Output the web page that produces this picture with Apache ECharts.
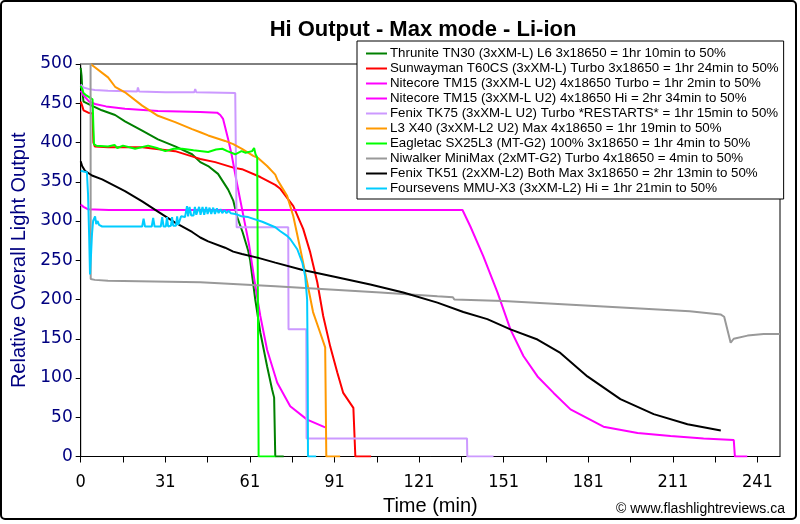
<!DOCTYPE html>
<html>
<head>
<meta charset="utf-8">
<script src="https://cdn.jsdelivr.net/npm/echarts@6/dist/echarts.min.js"></script>
<style>
html,body{margin:0;padding:0;background:#fff;}
#c{width:800px;height:524px;}
</style>
</head>
<body>
<div id="c"></div>
<script>
// ---- data: [time (min), relative output] ----
var seriesNames = [
  "Thrunite TN30 (3xXM-L) L6 3x18650 = 1hr 10min to 50%",
  "Sunwayman T60CS (3xXM-L) Turbo 3x18650 = 1hr 24min to 50%",
  "Nitecore TM15 (3xXM-L U2) 4x18650 Turbo = 1hr 2min to 50%",
  "Nitecore TM15 (3xXM-L U2) 4x18650 Hi = 2hr 34min to 50%",
  "Fenix TK75 (3xXM-L U2) Turbo *RESTARTS* = 1hr 15min to 50%",
  "L3 X40 (3xXM-L2 U2) Max 4x18650 = 1hr 19min to 50%",
  "Eagletac SX25L3 (MT-G2) 100% 3x18650 = 1hr 4min to 50%",
  "Niwalker MiniMax (2xMT-G2) Turbo 4x18650 = 4min to 50%",
  "Fenix TK51 (2xXM-L2) Both Max 3x18650 = 2hr 13min to 50%",
  "Foursevens MMU-X3 (3xXM-L2) Hi = 1hr 21min to 50%"
];
var seriesColors = ["#008000","#FF0000","#FF00FF","#FF00FF","#CC99FF","#FF9900","#00FF00","#999999","#000000","#00CCFF"];

var thruniteTN30 = [[0,495],[0.3,485],[0.6,465],[1,452],[3.9,447],[7.5,441],[12.2,435],[15.7,427],[21.8,415],[27.4,404],[33.5,395],[39.5,385],[42.4,375],[45.2,370],[48.7,360],[52.3,340],[54.1,326],[55.5,305],[57.4,286],[59.4,262],[60.1,250],[61.9,200],[63.7,158],[66.1,115],[67.9,85],[68.6,75],[69.0,0],[72,0]];
var sunwaymanT60CS = [[0,452],[0.5,447],[1,441],[2.7,438],[4.2,437],[4.5,400],[5,395],[9.7,394],[21.8,394],[33.5,389],[40.6,381],[42.4,379],[47.7,375],[54.1,368],[57.2,366],[63.7,356],[69.0,346],[70.8,341],[75.4,319],[78.9,290],[81.4,260],[83.9,222],[86.0,179],[88.5,140],[91.0,107],[93.1,81],[96.7,62],[97.4,0],[103,0]];
var nitecoreTurbo = [[0,466],[1,460],[3,452],[5.1,449],[9,446],[15.7,443],[27.4,440],[42.4,439],[48.4,438],[49.5,435],[50.5,430],[52.3,404],[53.5,385],[55.3,350],[57.5,310],[59.7,270],[61.9,218],[63.7,179],[66.1,136],[69.7,94],[74.3,64],[80.3,47],[86.7,37]];
var nitecoreHi = [[0,321],[1,318],[2.5,315],[10,314],[60,314],[100,314],[135.4,314],[138.2,293],[142.8,255],[147.8,209],[152.4,162],[157.0,128],[162.0,102],[167.7,81],[173.7,60],[185.4,38],[197.5,30],[209.2,26],[220.9,23],[231.6,21],[232.0,0],[236.4,0]];
var fenixTK75 = [[0,474],[1,470],[3,468],[5,467],[9.7,466],[20,465],[20.3,470],[20.7,465],[30,464],[40.3,464],[40.6,468],[41,464],[54.8,463],[55.2,463],[55.3,292],[73.6,292],[73.7,162],[80.0,162],[80.1,23],[137,23],[137.1,0],[146.4,0]];
var l3X40 = [[3.5,500],[9.7,483],[12.2,471],[15.7,464],[21.8,447],[27.4,434],[33.5,426],[39.5,417],[42.4,413],[45.2,409],[51.2,402],[54.1,398],[57.2,392],[61.2,383],[63.0,380],[66.1,370],[69.0,359],[69.7,353],[73.2,332],[75.4,306],[77.9,264],[80.3,222],[82.4,184],[84.9,158],[86.7,139],[87.1,0],[92,0]];
var eagletacSX25L3 = [[0,472],[0.5,468],[1,463],[2,460],[4.2,455],[4.5,420],[4.7,398],[5.5,396],[9.7,395],[12,397],[13,393],[15,396],[19.3,392],[23.9,396],[27,393],[30,389],[33,392],[36,392],[40,390],[45.2,388],[48,391],[50.2,392],[52,389],[54.8,385],[57,389],[58.5,387],[60.8,389],[61.5,393],[62.0,385],[62.6,381],[63.0,379],[63.1,0],[69,0]];
var niwalkerMiniMax = [[0,500],[3.5,500],[3.55,226],[5,225],[9.7,224],[42.4,222],[69.0,217],[106.3,209],[126.5,204],[132,203],[132.5,200],[149.9,198],[185.4,191],[216,185],[226.9,181],[228.2,178],[230.5,145],[231.6,150],[236.5,154],[242.2,156],[248,156]];
var fenixTK51 = [[0,376],[0.5,370],[1.5,364],[4,358],[7.6,353],[15.7,338],[21.8,325],[27.4,312],[33.5,298],[39.5,286],[42.4,279],[45.2,274],[51.2,266],[54.1,261],[57.2,258],[63.0,253],[69.0,247],[78.4,238],[90,229],[102.7,219],[114.4,209],[126.5,196],[135.7,184],[144.2,175],[152.4,162],[162.0,149],[170.1,132],[179.7,102],[191.4,73],[203.2,54],[215.2,41],[227,33]];
var foursevensMMUX3 = [[0,364],[1,363],[2.2,362],[2.6,334],[3.0,280],[3.3,232],[3.7,260],[4.0,283],[4.4,300],[5.1,306],[5.5,296],[6,300],[6.5,295],[7.6,293],[21.8,293],[22.3,303],[22.8,293],[25.2,293],[25.7,304],[26.2,293],[28.4,293],[28.9,305],[29.4,293],[30.2,293],[30.6,305],[31,293],[32,294],[32.4,305],[32.8,294],[33.8,294],[34.2,306],[34.6,295],[35.2,296],[35.6,306],[36.2,305],[37.0,305],[37.7,319],[38.1,306],[38.6,318],[39.2,307],[40,307],[40.5,318],[41,308],[42,318],[42.5,308],[43.2,318],[43.8,308],[44.5,318],[45,309],[45.7,317],[46.3,309],[47,317],[47.6,309],[48.3,316],[48.9,310],[49.6,315],[50.2,310],[51,314],[51.7,310],[52.5,313],[53.2,310],[54.8,309],[57,306],[59.4,305],[64.4,299],[69.0,292],[70.8,287],[73.2,281],[74.3,277],[76.8,264],[78.6,247],[79.6,230],[80.3,200],[80.5,120],[80.6,0],[83.5,0]];

var allData = [thruniteTN30, sunwaymanT60CS, nitecoreTurbo, nitecoreHi, fenixTK75, l3X40, eagletacSX25L3, niwalkerMiniMax, fenixTK51, foursevensMMUX3];

var xMin = 0, xMax = 248, xInterval = 15;
var yMin = 0, yMax = 500, yInterval = 50;

var chart = echarts.init(document.getElementById('c'), null, {renderer: 'canvas'});
var baseFont = "'Liberation Sans', Arial, sans-serif";

var series = allData.map(function (d, i) {
  return {
    name: seriesNames[i],
    type: 'line',
    data: d,
    showSymbol: false,
    symbol: 'none',
    clip: true,
    lineStyle: {color: seriesColors[i], width: 2},
    itemStyle: {color: seriesColors[i]},
    emphasis: {disabled: true},
    animation: false
  };
});

chart.setOption({
  animation: false,
  backgroundColor: '#fff',
  grid: {left: 80.7, right: 20, top: 64, bottom: 67.5, show: true, borderColor: '#000', borderWidth: 1, backgroundColor: 'transparent'},
  legend: {
    orient: 'vertical',
    left: 357, top: 41,
    padding: [5, 5, 3, 9],
    itemGap: 0,
    itemWidth: 21, itemHeight: 2,
    backgroundColor: '#fff',
    borderColor: '#000', borderWidth: 1,
    textStyle: {fontFamily: baseFont, fontSize: 13.3, color: '#000', lineHeight: 15, padding: [0, 0, 0, -2]},
    data: seriesNames.map(function (n) { return {name: n, icon: 'rect'}; }),
    itemStyle: {borderWidth: 0},
    selectedMode: false
  },
  xAxis: {
    type: 'value', min: xMin, max: xMax, interval: xInterval,
    name: 'Time (min)', nameLocation: 'middle', nameGap: 31,
    nameTextStyle: {fontFamily: baseFont, fontSize: 20, color: '#000'},
    axisLine: {show: true, lineStyle: {color: '#000', width: 1}},
    axisTick: {show: true, length: 6, lineStyle: {color: '#000'}},
    axisLabel: {
      margin: 17,
      fontFamily: "'Liberation Sans Narrow', 'DejaVu Sans Condensed', Arial, sans-serif",
      fontSize: 18, color: '#000',
      showMaxLabel: false,
      formatter: function (v) { if (v % 30 !== 0) return ''; return v === 0 ? '0' : String(v + 1); }
    },
    splitLine: {show: false}
  },
  yAxis: {
    type: 'value', min: yMin, max: yMax, interval: yInterval,
    name: 'Relative Overall Light Output', nameLocation: 'middle', nameGap: 50,
    nameTextStyle: {fontFamily: baseFont, fontSize: 20, color: '#000080'},
    axisLine: {show: true, lineStyle: {color: '#000', width: 1}},
    axisTick: {show: true, length: 5, lineStyle: {color: '#000'}},
    axisLabel: {margin: 8, fontFamily: "'DejaVu Sans', sans-serif", fontSize: 17, color: '#000080'},
    splitLine: {show: false}
  },
  graphic: [
    {type: 'text', x: 423, y: 30, z: 10, style: {text: 'Hi Output - Max mode - Li-ion', fontFamily: baseFont, fontSize: 22, fontWeight: 'bold', fill: '#000', textAlign: 'center', textVerticalAlign: 'middle'}},
    {type: 'text', x: 785, y: 509, z: 10, style: {text: '\u00A9 www.flashlightreviews.ca', fontFamily: baseFont, fontSize: 14, fill: '#000', textAlign: 'right', textVerticalAlign: 'middle'}},
    {type: 'rect', z: 20, shape: {x: 1, y: 1, width: 795, height: 518, r: 4}, style: {fill: 'none', stroke: '#000', lineWidth: 2}}
  ],
  series: series
});
</script>
</body>
</html>
